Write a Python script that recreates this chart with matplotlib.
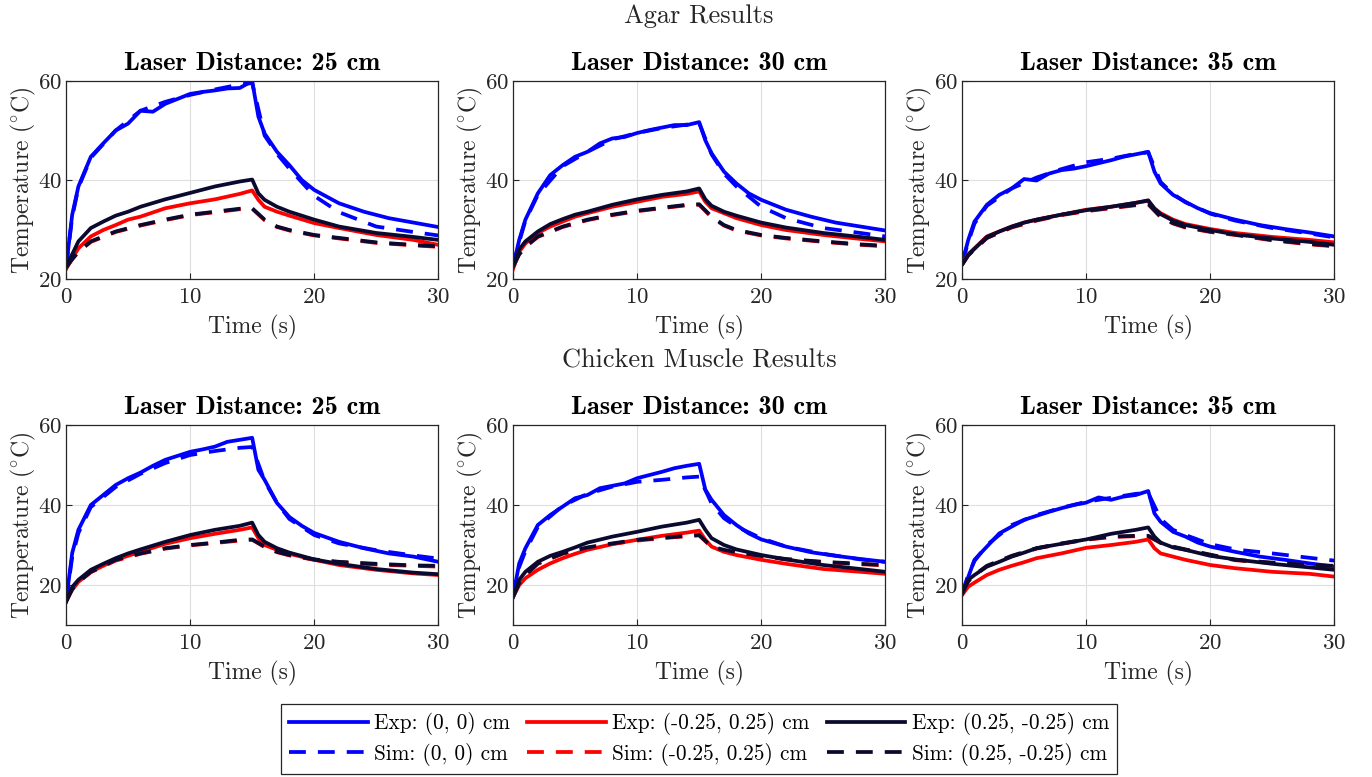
import matplotlib
matplotlib.use("Agg")
import matplotlib.pyplot as plt
from matplotlib.lines import Line2D

plt.rcParams['font.family'] = 'serif'
plt.rcParams['font.serif'] = ['cmr10']
plt.rcParams['mathtext.fontset'] = 'cm'
plt.rcParams['axes.formatter.use_mathtext'] = True

# Temps de lecture des courbes
T_EXP_B = [0, 0.5, 1, 2, 3, 4, 5, 6, 7, 8, 9, 10, 11, 12, 13, 14, 15, 15.5, 16, 17, 18, 19, 20, 22, 24, 26, 28, 30]
T_EXP = [0, 0.5, 1, 2, 3, 4, 5, 6, 8, 10, 12, 14, 15, 15.5, 16, 17, 18, 20, 22, 25, 28, 30]
T_SIM = [0, 0.5, 1, 2, 4, 6, 8, 10, 12, 14, 15, 16, 17, 18, 20, 22, 25, 28, 30]

distances = [25, 30, 35]
groupes = ["Agar Results", "Chicken Muscle Results"]

# Agar 25 cm
a25_exp_0 = [22.2, 33.0, 38.7, 44.7, 47.4, 50.0, 51.4, 54.0, 53.8, 55.4, 56.4, 57.4, 57.8, 58.1, 58.5, 58.6, 60.0, 52.8, 49.4, 45.7, 43.0, 40.0, 38.0, 35.3, 33.6, 32.3, 31.4, 30.5]
a25_sim_0 = [22.2, 32.5, 38.5, 44.5, 50.0, 54.0, 55.8, 57.2, 58.3, 59.3, 59.6, 49.0, 45.3, 42.3, 36.8, 33.5, 30.6, 29.5, 28.8]
a25_exp_1 = [22.0, 24.2, 26.2, 28.6, 29.9, 30.9, 32.0, 32.6, 34.3, 35.3, 36.1, 37.2, 37.9, 36.0, 34.6, 33.6, 32.8, 31.3, 30.3, 28.9, 27.9, 26.9]
a25_sim_1 = [22.3, 24.0, 25.5, 27.5, 29.5, 30.8, 31.9, 32.9, 33.5, 34.1, 34.2, 31.9, 30.5, 29.8, 28.8, 28.2, 27.3, 26.8, 26.5]
a25_exp_2 = [22.5, 25.0, 27.6, 30.3, 31.6, 32.8, 33.6, 34.6, 36.1, 37.4, 38.7, 39.7, 40.1, 37.3, 36.0, 34.6, 33.6, 32.0, 30.6, 29.3, 28.5, 27.9]
a25_sim_2 = [22.3, 24.0, 25.5, 27.6, 29.6, 30.9, 32.0, 33.0, 33.6, 34.2, 34.3, 32.0, 30.6, 29.9, 28.9, 28.3, 27.4, 26.9, 26.6]

# Agar 30 cm
a30_exp_0 = [22.5, 27.9, 32.0, 37.3, 41.0, 43.0, 44.7, 45.7, 47.4, 48.4, 48.7, 49.5, 50.1, 50.6, 51.1, 51.1, 51.7, 48.0, 45.4, 41.7, 39.3, 37.3, 36.0, 34.0, 32.6, 31.4, 30.6, 29.8]
a30_sim_0 = [22.5, 27.5, 31.8, 37.0, 42.8, 45.7, 48.2, 49.5, 50.5, 51.2, 51.5, 45.2, 41.3, 38.7, 34.6, 32.3, 30.3, 29.3, 28.6]
a30_exp_1 = [22.0, 25.5, 27.2, 29.3, 30.6, 31.6, 32.6, 33.3, 34.6, 35.6, 36.6, 37.2, 37.7, 35.6, 34.3, 33.3, 32.3, 30.9, 29.9, 28.9, 28.1, 27.6]
a30_sim_1 = [22.5, 25.0, 26.5, 28.5, 30.5, 31.9, 32.9, 33.7, 34.3, 34.9, 35.0, 32.5, 30.8, 29.8, 28.8, 28.2, 27.5, 26.9, 26.6]
a30_exp_2 = [22.5, 26.0, 27.6, 29.6, 31.1, 32.1, 33.0, 33.6, 35.0, 36.1, 37.0, 37.7, 38.3, 36.1, 34.8, 33.6, 32.8, 31.4, 30.4, 29.3, 28.5, 27.9]
a30_sim_2 = [22.5, 25.0, 26.5, 28.6, 30.6, 32.0, 33.0, 33.8, 34.4, 35.0, 35.1, 32.6, 30.9, 29.9, 28.9, 28.3, 27.6, 27.0, 26.7]

# Agar 35 cm
a35_exp_0 = [23.1, 27.9, 31.6, 35.0, 37.0, 38.3, 40.2, 39.9, 41.3, 42.0, 42.3, 42.8, 43.4, 44.0, 44.7, 45.2, 45.7, 41.7, 39.3, 37.0, 35.6, 34.3, 33.3, 32.0, 30.9, 30.1, 29.4, 28.6]
a35_sim_0 = [23.1, 27.5, 31.2, 34.8, 38.3, 40.5, 42.2, 43.6, 44.3, 45.3, 45.6, 39.6, 37.2, 35.5, 33.2, 31.8, 30.3, 29.2, 28.4]
a35_exp_1 = [23.0, 25.0, 26.2, 28.6, 29.6, 30.6, 31.4, 32.0, 33.0, 34.0, 34.6, 35.4, 35.8, 34.3, 33.3, 32.0, 31.1, 30.1, 29.3, 28.5, 27.9, 27.4]
a35_sim_1 = [22.9, 24.8, 26.0, 28.3, 30.4, 31.8, 32.9, 33.7, 34.3, 34.9, 35.1, 32.5, 31.2, 30.4, 29.5, 28.9, 27.8, 27.0, 26.6]
a35_exp_2 = [22.9, 24.9, 26.1, 28.5, 29.6, 30.6, 31.4, 32.0, 33.0, 33.9, 34.6, 35.4, 35.9, 34.2, 33.1, 31.8, 30.9, 29.9, 29.0, 28.2, 27.5, 26.9]
a35_sim_2 = [22.9, 24.8, 26.0, 28.3, 30.5, 31.9, 33.0, 33.8, 34.4, 35.0, 35.2, 32.6, 31.3, 30.5, 29.6, 29.0, 27.9, 27.1, 26.7]

# Chicken 25 cm
c25_exp_0 = [15.8, 28.0, 33.8, 40.0, 42.5, 45.0, 46.7, 48.1, 49.8, 51.3, 52.3, 53.3, 53.9, 54.6, 55.8, 56.3, 56.8, 48.8, 46.3, 40.5, 37.0, 34.8, 33.0, 30.8, 29.2, 27.9, 27.1, 25.8]
c25_sim_0 = [15.8, 27.0, 33.0, 39.5, 44.5, 47.8, 50.5, 52.5, 53.5, 54.3, 54.5, 46.0, 40.5, 36.5, 32.5, 30.4, 28.7, 27.4, 26.6]
c25_exp_1 = [16.0, 18.8, 20.8, 23.3, 24.8, 26.3, 27.3, 28.3, 30.3, 31.7, 32.8, 33.8, 34.4, 31.7, 30.0, 28.8, 27.8, 26.3, 25.0, 23.8, 22.9, 22.5]
c25_sim_1 = [15.8, 19.0, 20.7, 23.2, 26.1, 27.8, 29.1, 29.9, 30.5, 31.1, 31.3, 29.5, 28.2, 27.4, 26.3, 25.7, 25.1, 24.8, 24.6]
c25_exp_2 = [15.8, 19.5, 21.3, 23.8, 25.3, 26.7, 27.9, 28.9, 30.8, 32.5, 33.8, 34.8, 35.6, 32.5, 30.8, 29.2, 28.1, 26.4, 25.3, 24.0, 23.1, 22.7]
c25_sim_2 = [15.8, 19.0, 20.8, 23.3, 26.3, 27.9, 29.2, 30.0, 30.6, 31.3, 31.4, 29.6, 28.3, 27.5, 26.4, 25.8, 25.3, 24.9, 24.8]

# Chicken 30 cm
c30_exp_0 = [17.1, 25.4, 29.2, 35.0, 37.5, 39.6, 41.7, 42.5, 44.2, 44.8, 45.4, 46.7, 47.5, 48.3, 49.2, 49.8, 50.3, 43.8, 41.3, 37.5, 35.0, 32.9, 31.4, 29.6, 28.2, 27.3, 26.5, 25.8]
c30_sim_0 = [17.1, 24.5, 28.5, 34.5, 39.8, 42.8, 44.6, 45.8, 46.3, 46.9, 47.1, 40.4, 36.7, 34.6, 31.7, 29.6, 27.8, 26.4, 25.8]
c30_exp_1 = [17.0, 20.0, 21.7, 23.8, 25.4, 26.7, 27.8, 28.8, 30.2, 31.3, 32.3, 33.1, 33.6, 31.3, 29.6, 28.3, 27.5, 26.3, 25.3, 24.0, 23.3, 22.8]
c30_sim_1 = [17.0, 20.4, 22.4, 25.3, 27.8, 29.3, 30.3, 31.1, 31.7, 32.2, 32.4, 29.5, 28.6, 28.1, 27.2, 26.4, 25.7, 25.2, 24.9]
c30_exp_2 = [17.0, 21.3, 23.3, 25.8, 27.3, 28.3, 29.4, 30.6, 32.1, 33.3, 34.6, 35.6, 36.3, 33.8, 31.7, 30.0, 28.9, 27.5, 26.4, 25.0, 24.0, 23.3]
c30_sim_2 = [17.0, 20.5, 22.5, 25.4, 27.9, 29.4, 30.4, 31.3, 31.8, 32.3, 32.5, 29.6, 28.8, 28.2, 27.3, 26.5, 25.8, 25.3, 25.0]

# Chicken 35 cm
c35_exp_0 = [17.9, 22.0, 26.3, 29.6, 32.9, 34.6, 36.3, 37.3, 38.3, 39.2, 40.0, 40.6, 41.9, 41.3, 42.1, 42.5, 43.5, 37.9, 35.8, 33.3, 32.1, 30.6, 29.6, 28.3, 27.1, 26.3, 25.4, 24.6]
c35_sim_0 = [17.9, 22.5, 26.0, 30.0, 35.0, 37.5, 39.3, 40.8, 41.8, 42.8, 43.0, 36.5, 33.8, 32.5, 30.2, 28.9, 27.9, 26.8, 26.1]
c35_exp_1 = [17.5, 19.6, 20.6, 22.5, 23.8, 24.8, 25.7, 26.7, 27.9, 29.3, 30.0, 30.8, 31.4, 29.2, 27.9, 27.1, 26.3, 25.0, 24.2, 23.3, 22.8, 22.1]
c35_sim_1 = [17.8, 20.9, 22.4, 24.7, 27.2, 29.1, 30.3, 31.3, 32.0, 32.2, 32.2, 30.5, 29.5, 28.8, 27.5, 26.2, 25.5, 24.9, 24.7]
c35_exp_2 = [17.8, 21.3, 22.5, 24.6, 25.8, 27.1, 28.1, 29.2, 30.3, 31.4, 32.8, 33.8, 34.4, 32.1, 30.6, 29.4, 28.8, 27.3, 26.4, 25.3, 24.4, 23.8]
c35_sim_2 = [17.8, 21.0, 22.5, 24.8, 27.3, 29.2, 30.4, 31.4, 32.1, 32.3, 32.3, 30.6, 29.6, 28.9, 27.6, 26.3, 25.6, 25.0, 24.8]

panneaux = [
    [(a25_exp_0, a25_sim_0, a25_exp_1, a25_sim_1, a25_exp_2, a25_sim_2),
     (a30_exp_0, a30_sim_0, a30_exp_1, a30_sim_1, a30_exp_2, a30_sim_2),
     (a35_exp_0, a35_sim_0, a35_exp_1, a35_sim_1, a35_exp_2, a35_sim_2)],
    [(c25_exp_0, c25_sim_0, c25_exp_1, c25_sim_1, c25_exp_2, c25_sim_2),
     (c30_exp_0, c30_sim_0, c30_exp_1, c30_sim_1, c30_exp_2, c30_sim_2),
     (c35_exp_0, c35_sim_0, c35_exp_1, c35_sim_1, c35_exp_2, c35_sim_2)],
]

positions = ["(0, 0)", "(-0.25, 0.25)", "(0.25, -0.25)"]
couleurs = ["#0000FF", "#FF0000", "#0A0A30"]
ylims = [(20, 60), (10, 60)]

gris = "#262626"
lw = 2.7
tirets = (4.5, 3.2)

fig = plt.figure(figsize=(13.72, 7.77), dpi=100)

lefts = [0.0481, 0.3739, 0.7012]
bottoms = [0.6409, 0.1956]
largeur = 0.2714
hauteurs = [0.2548, 0.2574]

for r in range(2):
    for c in range(3):
        ax = fig.add_axes([lefts[c], bottoms[r], largeur, hauteurs[r]])
        series = panneaux[r][c]
        for k in range(3):
            ax.plot(T_EXP_B if k == 0 else T_EXP, series[2 * k], color=couleurs[k], lw=lw,
                    solid_joinstyle='round')
            ax.plot(T_SIM, series[2 * k + 1], color=couleurs[k], lw=lw, linestyle=(0, tirets))
        ax.set_xlim(0, 30)
        ax.set_ylim(*ylims[r])
        ax.set_xticks([0, 10, 20, 30])
        ax.set_yticks([20, 40, 60])
        ax.grid(True, color="#DFDFDF", lw=0.8)
        ax.set_axisbelow(True)
        for s in ax.spines.values():
            s.set_color(gris)
            s.set_linewidth(0.9)
        ax.tick_params(direction='in', length=4, width=0.8, colors=gris, labelsize=16.5)
        ax.tick_params(axis='x', pad=6)
        ax.tick_params(axis='y', pad=3)
        ax.set_xlabel("Time (s)", fontsize=17, color=gris, labelpad=6)
        ax.set_ylabel(r"Temperature ($^{\circ}$C)", fontsize=17, color=gris, labelpad=0)
        ax.set_title(f"Laser Distance: {distances[c]} cm", fontfamily='cmb10', fontsize=19, pad=8)

fig.text(0.5095, 1 - 16 / 777, groupes[0], ha='center', va='center', fontsize=19, color=gris)
fig.text(0.5095, 1 - 361 / 777, groupes[1], ha='center', va='center', fontsize=19, color=gris)

handles = []
labels = []
for k in range(3):
    handles.append(Line2D([], [], color=couleurs[k], lw=lw))
    labels.append(f"Exp: {positions[k]} cm")
    handles.append(Line2D([], [], color=couleurs[k], lw=lw, linestyle=(0, tirets)))
    labels.append(f"Sim: {positions[k]} cm")

leg = fig.legend(handles, labels, ncol=3, loc='center', bbox_to_anchor=(0.5095, 1 - 739 / 777),
                 fontsize=15.3, frameon=True, fancybox=False, edgecolor=gris, framealpha=1,
                 handlelength=3.7, handletextpad=0.3, columnspacing=0.8, labelspacing=0.35,
                 borderpad=0.4)
leg.get_frame().set_linewidth(0.9)

fig.savefig("out.png", dpi=100)
